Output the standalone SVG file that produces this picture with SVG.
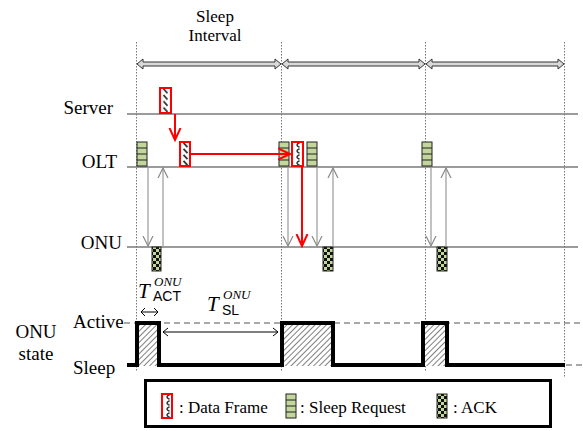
<svg xmlns="http://www.w3.org/2000/svg" width="583" height="431" viewBox="0 0 583 431">
<style>
.lbl{fill:#000}
.lane{stroke:#7a7a7a;stroke-width:1.6}
.vdot{stroke:#777;stroke-width:1;stroke-dasharray:1.5,1.5}
.gray{stroke:#999;stroke-width:1.2;fill:none}
.red{stroke:#f00;stroke-width:2;fill:none}
.df{fill:url(#hatchA);stroke:#f00;stroke-width:2}
.df2{fill:url(#chev);stroke:#f00;stroke-width:2}
.sr{fill:#c3d69b;stroke:#222;stroke-width:1}
.ack{fill:url(#check);stroke:#222;stroke-width:1}
.blk{fill:#d9d9d9;stroke:#333;stroke-width:1}
.wave{fill:none;stroke:#000;stroke-width:4;stroke-linejoin:miter}
.act{fill:url(#diag);stroke:none}
.dash{stroke:#555;stroke-width:1.2;stroke-dasharray:6,4}
.thin{stroke:#000;stroke-width:1;fill:none}
</style>
<defs>
<pattern id="hatchA" width="1" height="0.25" patternUnits="objectBoundingBox">
<rect width="12" height="6" fill="#fff"/>
<path d="M3.5,0.8 L7.5,5.2" stroke="#333" stroke-width="1.8"/>
</pattern>
<pattern id="chev" width="1" height="0.25" patternUnits="objectBoundingBox">
<rect width="12" height="6" fill="#fff"/>
<path d="M7.5,0.8 Q2.5,3 7.5,5.2" stroke="#333" stroke-width="1.6" fill="none"/>
</pattern>
<pattern id="check" width="6" height="6" patternUnits="userSpaceOnUse">
<rect width="6" height="6" fill="#c3d69b"/>
<rect width="3" height="3" fill="#111"/>
<rect x="3" y="3" width="3" height="3" fill="#111"/>
</pattern>
<pattern id="diag" width="4" height="4" patternUnits="userSpaceOnUse" patternTransform="rotate(45)">
<rect width="4" height="4" fill="#fff"/>
<line x1="0" y1="0" x2="0" y2="4" stroke="#555" stroke-width="1.5"/>
</pattern>
<marker id="gv" markerUnits="userSpaceOnUse" markerWidth="12" markerHeight="12" viewBox="0 0 12 12" refX="10" refY="6" orient="auto">
<path d="M0,1 L10,6 L0,11" fill="none" stroke="#888" stroke-width="1.2"/>
</marker>
<marker id="rv" markerUnits="userSpaceOnUse" markerWidth="14" markerHeight="14" viewBox="0 0 14 14" refX="12" refY="7" orient="auto">
<path d="M0,1.5 L12,7 L0,12.5" fill="none" stroke="#f00" stroke-width="2"/>
</marker>
<g id="srIcon">
<rect class="sr" x="0" y="0" width="10" height="24"/>
<path d="M0,6 H10 M0,12 H10 M0,18 H10" stroke="#222" stroke-width="1"/>
</g>
</defs>
<rect width="583" height="431" fill="#fff"/>

<g id="guides">
<line class="vdot" x1="136.5" y1="42" x2="136.5" y2="372"/>
<line class="vdot" x1="281.5" y1="42" x2="281.5" y2="372"/>
<line class="vdot" x1="425.5" y1="42" x2="425.5" y2="372"/>
<line class="vdot" x1="564.5" y1="42" x2="564.5" y2="378"/>
</g>

<g id="sleep-interval" font-family="'Liberation Serif','Times New Roman',serif">
<text class="lbl" x="215" y="22" font-size="17" text-anchor="middle">Sleep</text>
<text class="lbl" x="215" y="41" font-size="17" text-anchor="middle">Interval</text>
<polygon class="blk" points="137,64 143,59 143,62 275,62 275,59 281,64 275,69 275,66 143,66 143,69"/>
<polygon class="blk" points="282,64 288,59 288,62 419,62 419,59 425,64 419,69 419,66 288,66 288,69"/>
<polygon class="blk" points="426,64 432,59 432,62 558,62 558,59 564,64 558,69 558,66 432,66 432,69"/>
</g>

<g id="server" font-family="'Liberation Serif','Times New Roman',serif">
<text class="lbl" x="113" y="114" font-size="19" text-anchor="end">Server</text>
<line class="lane" x1="127" y1="114" x2="578" y2="114"/>
</g>
<g id="olt" font-family="'Liberation Serif','Times New Roman',serif">
<text class="lbl" x="117" y="168" font-size="19" text-anchor="end">OLT</text>
<line class="lane" x1="127" y1="167" x2="578" y2="167"/>
</g>
<g id="onu" font-family="'Liberation Serif','Times New Roman',serif">
<text class="lbl" x="122" y="249" font-size="19" text-anchor="end">ONU</text>
<line class="lane" x1="127" y1="247" x2="578" y2="247"/>
</g>

<g id="frames">
<rect class="df" x="160" y="88" width="11" height="25"/>
<rect class="df" x="180" y="142" width="10" height="24"/>
<rect class="df2" x="292" y="142" width="11" height="24"/>
<use href="#srIcon" x="137" y="142"/>
<use href="#srIcon" x="279" y="142"/>
<use href="#srIcon" x="307" y="142"/>
<use href="#srIcon" x="422" y="142"/>
<rect class="ack" x="152" y="247" width="9" height="24"/>
<rect class="ack" x="323" y="247" width="10" height="24"/>
<rect class="ack" x="437" y="247" width="10" height="24"/>
</g>

<g id="connectors">
<line class="gray" x1="148" y1="167" x2="148" y2="246" marker-end="url(#gv)"/>
<line class="gray" x1="163" y1="247" x2="163" y2="168" marker-end="url(#gv)"/>
<line class="gray" x1="288" y1="167" x2="288" y2="246" marker-end="url(#gv)"/>
<line class="gray" x1="317" y1="167" x2="317" y2="246" marker-end="url(#gv)"/>
<line class="gray" x1="333" y1="247" x2="333" y2="168" marker-end="url(#gv)"/>
<line class="gray" x1="431" y1="167" x2="431" y2="246" marker-end="url(#gv)"/>
<line class="gray" x1="446" y1="247" x2="446" y2="168" marker-end="url(#gv)"/>
<line class="red" x1="175" y1="114" x2="175" y2="140" marker-end="url(#rv)"/>
<line class="red" x1="190" y1="154" x2="290" y2="154" marker-end="url(#rv)"/>
<line class="red" x1="302" y1="167" x2="302" y2="246" marker-end="url(#rv)"/>
</g>

<g id="onu-state" font-family="'Liberation Serif','Times New Roman',serif">
<text class="lbl" x="36" y="338" font-size="19" text-anchor="middle">ONU</text>
<text class="lbl" x="36" y="360" font-size="19" text-anchor="middle">state</text>
<text class="lbl" x="73" y="328" font-size="19">Active</text>
<text class="lbl" x="73" y="374" font-size="19">Sleep</text>
<line class="dash" x1="124" y1="323" x2="583" y2="323"/>
<line class="dash" x1="566" y1="365" x2="583" y2="365"/>
<rect class="act" x="137" y="323" width="22" height="43"/>
<rect class="act" x="282" y="323" width="51" height="43"/>
<rect class="act" x="423" y="323" width="24" height="43"/>
<path class="wave" d="M127,365 H137 V323 H159 V365 H282 V323 H333 V365 H423 V323 H447 V365 H565"/>
</g>

<g id="timing-labels">
<path class="thin" d="M141,312 H158 M145,308 L141,312 L145,316 M154,308 L158,312 L154,316"/>
<path class="thin" d="M163,332 H278 M168,328 L163,332 L168,336 M273,328 L278,332 L273,336"/>
<text x="138" y="298" font-family="'Liberation Serif',serif" font-style="italic" font-size="21">T</text>
<text x="154" y="286" font-family="'Liberation Serif',serif" font-style="italic" font-size="13">ONU</text>
<text x="153" y="301" font-family="'Liberation Sans',Arial,sans-serif" font-size="14">ACT</text>
<text x="207" y="311" font-family="'Liberation Serif',serif" font-style="italic" font-size="21">T</text>
<text x="223" y="299" font-family="'Liberation Serif',serif" font-style="italic" font-size="13">ONU</text>
<text x="222" y="315" font-family="'Liberation Sans',Arial,sans-serif" font-size="14">SL</text>
</g>

<g id="legend" font-family="'Liberation Serif','Times New Roman',serif">
<rect x="145.5" y="380.5" width="405" height="46" fill="#fff" stroke="#000" stroke-width="3"/>
<rect class="df2" x="162" y="394" width="10" height="24"/>
<text class="lbl" x="179" y="413" font-size="17">: Data Frame</text>
<use href="#srIcon" x="286" y="394"/>
<text class="lbl" x="300" y="413" font-size="17">: Sleep Request</text>
<rect class="ack" x="437" y="394" width="10" height="24"/>
<text class="lbl" x="453" y="413" font-size="17">: ACK</text>
</g>
</svg>
